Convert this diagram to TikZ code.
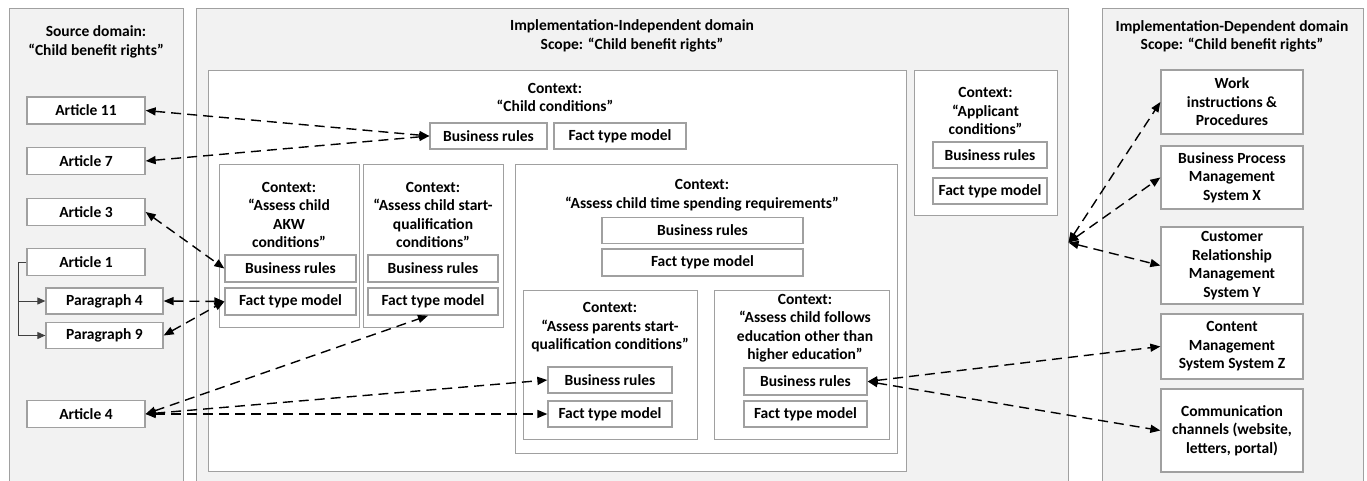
\documentclass[tikz,border=0pt]{standalone}
\usepackage{fontspec}
\setmainfont{Carlito}
\usetikzlibrary{arrows.meta,calc}
\definecolor{gfill}{HTML}{F2F2F2}
\definecolor{gbord}{HTML}{A0A0A0}
\newcommand{\lblfont}{\fontsize{15.5}{18.5}\selectfont\bfseries}
\begin{document}
\begin{tikzpicture}[x=1pt,y=-1pt,
  panel/.style={draw=gbord, fill=gfill, line width=1pt, inner sep=0pt},
  ctx/.style={draw=gbord, fill=white, line width=1pt, inner sep=0pt},
  item/.style={draw=gbord, fill=white, line width=1.3pt, inner sep=0pt, align=center, font=\lblfont},
  ttl/.style={align=center, inner sep=0pt, font=\lblfont},
  link/.style={draw=black, line width=1.4pt, dash pattern=on 10pt off 6pt, {Triangle[length=10pt,width=8pt]}-{Triangle[length=10pt,width=8pt]}},
  tree/.style={draw=black!75, line width=1pt},
  treearrow/.style={tree, -{Triangle[length=8pt,width=7pt]}}
]
\useasboundingbox (0,0) rectangle (1367,481);
\clip (0,0) rectangle (1367,481);
\fill[white] (0,0) rectangle (1367,481);

% panels
\node[panel, minimum width=174, minimum height=486] (srcpanel) at (96,252) {};
\node[panel, minimum width=872, minimum height=486] (indpanel) at (632,252) {};
\node[panel, minimum width=261, minimum height=486] (deppanel) at (1232.5,252) {};
\node[ttl] (srctitle) at (96,42) {Source domain:\\“Child benefit rights”};
\node[ttl] (indtitle) at (632,36) {Implementation-Independent domain\\Scope: “Child benefit rights”};
\node[ttl] (deptitle) at (1232,36.5) {Implementation-Dependent domain\\Scope: “Child benefit rights”};

% source items
\node[item, minimum width=118, minimum height=27] (a11) at (86,110.5) {Article 11};
\node[item, minimum width=118, minimum height=27] (a7) at (86,161) {Article 7};
\node[item, minimum width=118, minimum height=27] (a3) at (86,212) {Article 3};
\node[item, minimum width=118, minimum height=27] (a1) at (86,262) {Article 1};
\node[item, minimum width=117, minimum height=26] (p4) at (104.5,301) {Paragraph 4};
\node[item, minimum width=117, minimum height=26] (p9) at (104.5,335.5) {Paragraph 9};
\node[item, minimum width=118, minimum height=27] (a4) at (86,414) {Article 4};

\coordinate (trunk) at (18,262);
\draw[tree] (a1.west) -- (trunk);
\draw[treearrow] (trunk) |- (p4.west);
\draw[treearrow] (trunk) |- (p9.west);

% child conditions context
\node[ctx, minimum width=698, minimum height=400] (cc) at (557,271) {};
\node[ttl] (cctitle) at (555,97.5) {Context:\\“Child conditions”};
\node[item, minimum width=117, minimum height=26] (ccBR) at (488.5,136) {Business rules};
\node[item, minimum width=132, minimum height=26] (ccFTM) at (620,136) {Fact type model};

% AKW
\node[ctx, minimum width=140, minimum height=162] (akw) at (289,246) {};
\node[ttl] (akwtitle) at (289,215) {Context:\\“Assess child\\AKW\\conditions”};
\node[item, minimum width=131, minimum height=27] (akwBR) at (290.5,268.5) {Business rules};
\node[item, minimum width=131, minimum height=27] (akwFTM) at (290.5,301.5) {Fact type model};

% start qualification
\node[ctx, minimum width=140, minimum height=162] (sq) at (433,246) {};
\node[ttl] (sqtitle) at (433,215) {Context:\\“Assess child start-\\qualification\\conditions”};
\node[item, minimum width=130, minimum height=27] (sqBR) at (433,268.5) {Business rules};
\node[item, minimum width=130, minimum height=27] (sqFTM) at (433,301.5) {Fact type model};

% time spending
\node[ctx, minimum width=382, minimum height=288] (ts) at (706,309) {};
\node[ttl] (tstitle) at (702,195) {Context:\\“Assess child time spending requirements”};
\node[item, minimum width=201, minimum height=26] (tsBR) at (702.5,230.5) {Business rules};
\node[item, minimum width=201, minimum height=27] (tsFTM) at (702.5,262.5) {Fact type model};

% parents start qualification
\node[ctx, minimum width=174, minimum height=149] (ps) at (610,364.5) {};
\node[ttl] (pstitle) at (610,327.5) {Context:\\“Assess parents start-\\qualification conditions”};
\node[item, minimum width=124, minimum height=26] (psBR) at (610,380) {Business rules};
\node[item, minimum width=124, minimum height=26] (psFTM) at (610,414) {Fact type model};

% follows education
\node[ctx, minimum width=175, minimum height=149] (fe) at (801.5,364.5) {};
\node[ttl] (fetitle) at (805,328) {Context:\\“Assess child follows\\education other than\\higher education”};
\node[item, minimum width=123, minimum height=27] (feBR) at (805.5,381.5) {Business rules};
\node[item, minimum width=123, minimum height=26] (feFTM) at (805.5,414) {Fact type model};

% applicant conditions
\node[ctx, minimum width=143, minimum height=144] (ac) at (985.5,143) {};
\node[ttl] (actitle) at (985.5,111) {Context:\\“Applicant\\conditions”};
\node[item, minimum width=114, minimum height=26] (acBR) at (990,155) {Business rules};
\node[item, minimum width=114, minimum height=26] (acFTM) at (990,191) {Fact type model};

% dependent items
\node[item, minimum width=142, minimum height=64] (wi) at (1232,102) {Work\\instructions \&\\Procedures};
\node[item, minimum width=142, minimum height=63] (bpm) at (1232,177.5) {Business Process\\Management\\System X};
\node[item, minimum width=142, minimum height=77] (crm) at (1232,265.5) {Customer\\Relationship\\Management\\System Y};
\node[item, minimum width=142, minimum height=65] (cms) at (1232,346.5) {Content\\Management\\System System Z};
\node[item, minimum width=142, minimum height=83] (comm) at (1232,430.5) {Communication\\channels (website,\\letters, portal)};

\coordinate (iddock) at ($(indpanel.north east)+(0,234)$);

% connectors
\draw[link] (a11.east) -- (ccBR.west);
\draw[link] (a7.east) -- (ccBR.west);
\draw[link] (a3.east) -- (akwBR.west);
\draw[link] (p4.east) -- (akwFTM.west);
\draw[link] (p9.east) -- (akwFTM.west);
\draw[link] (a4.east) -- ($(sqFTM.south)+(-5,0)$);
\draw[link] (a4.east) -- (psBR.west);
\draw[link] (a4.east) -- (psFTM.west);
\draw[link] (feBR.east) -- (cms.west);
\draw[link] (feBR.east) -- (comm.west);
\draw[link] (iddock) -- (wi.west);
\draw[link] (iddock) -- (bpm.west);
\draw[link] (iddock) -- (crm.west);
\end{tikzpicture}
\end{document}
